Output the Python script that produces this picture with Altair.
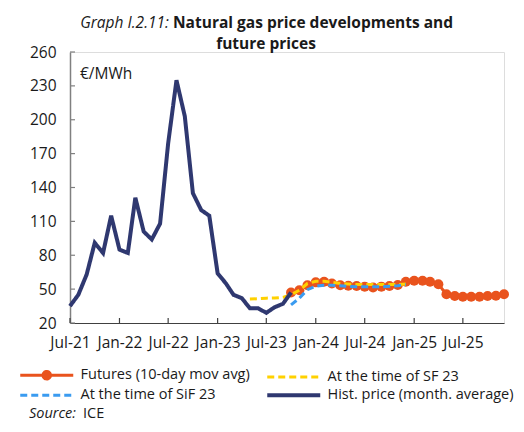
import altair as alt
import pandas as pd

FUT = "Futures (10-day mov avg)"
SF = "At the time of SF 23"
SIF = "At the time of SiF 23"
HIST = "Hist. price (month. average)"

series_names = [FUT, SF, SIF, HIST]
series_colors = ["#E9531D", "#FFD100", "#3A9BF0", "#2F3870"]
series_dashes = [[1, 0], [7, 4], [7, 4], [1, 0]]

hist_start = "2021-07"
hist_values = [35, 45, 63, 91, 82, 115, 85, 82, 131, 101, 94, 108,
               179, 235, 203, 135, 120, 115, 64, 55, 45, 42, 33, 33,
               29, 34, 37, 47]

futures_start = "2023-10"
futures_values = [47, 49, 53.5, 56, 56.5, 55, 53.5, 53, 52.8, 52.2, 51.5,
                  52.2, 52.8, 53.6, 56.6, 57.4, 57.4, 56.6, 54.3, 45.4,
                  43.9, 43.3, 43.3, 43.3, 43.9, 44.2, 45.4]

sf_start = "2023-05"
sf_values = [41.2, 41.5, 42, 42.2, 42.7, 45, 49, 55, 57, 57, 56, 55,
             54.5, 54, 54, 54, 54, 54, 54, 54.5]

sif_start = "2023-10"
sif_values = [36, 42, 49.5, 52.5, 53.5, 53.5, 53, 52.5, 52, 52, 52, 52,
              52.5, 53, 54]

y_ticks = [20, 50, 80, 110, 140, 170, 200, 230, 260]
x_ticks = ["2021-07", "2022-01", "2022-07", "2023-01", "2023-07",
           "2024-01", "2024-07", "2025-01", "2025-07"]
x_first = "2021-07"
x_last = "2025-12"

FONT = "Open Sans"
FS = 15.5
W, H = 434, 271


def frame(name, start, values):
    months = pd.date_range(start=start + "-01", periods=len(values), freq="MS")
    return pd.DataFrame({"date": months.strftime("%Y-%m-%dT00:00:00"),
                         "value": values, "series": name})


def dt(s):
    y, m = s.split("-")
    return alt.DateTime(year=int(y), month=int(m), date=1)


hist_df = frame(HIST, hist_start, hist_values)
fut_df = frame(FUT, futures_start, futures_values)
sf_df = frame(SF, sf_start, sf_values)
sif_df = frame(SIF, sif_start, sif_values)

line_path = "M-5.3,0H5.3"
dot_path = ("M-5.3,0H5.3"
            "M-0.3,0A0.3,0.3,0,1,1,0.3,0A0.3,0.3,0,1,1,-0.3,0Z"
            "M-0.75,0A0.75,0.75,0,1,1,0.75,0A0.75,0.75,0,1,1,-0.75,0Z")

legend = alt.Legend(
    title=None, orient="none", legendX=-30.5, legendY=316, columns=2,
    direction="horizontal",
    padding=0, symbolSize=100,
    symbolType={"expr": f"datum.value === '{FUT}' ? '{dot_path}' : '{line_path}'"},
    symbolStrokeWidth={"expr": f"datum.value === '{HIST}' ? 4 : 3"},
    labelFont=FONT, labelFontSize=14.5, labelColor="#1a1a1a", labelLimit=0,
    labelOffset=26.5, rowPadding=2, columnPadding=8, symbolOffset=0,
)

x_enc = alt.X("date:T", title=None,
              scale=alt.Scale(domain=[dt(x_first), dt(x_last)], nice=False),
              axis=alt.Axis(values=[dt(v) for v in x_ticks], format="%b-%y",
                            labelFont=FONT, labelFontSize=FS, labelColor="#1a1a1a",
                            labelPadding=12, labelOverlap=False, labelFlush=False,
                            ticks=False, tickSize=0, grid=False,
                            domainColor="#404040", domainWidth=1.2))
y_enc = alt.Y("value:Q", title=None,
              scale=alt.Scale(domain=[20, 260], nice=False, zero=False),
              axis=alt.Axis(values=y_ticks, labelFont=FONT, labelFontSize=FS,
                            labelColor="#1a1a1a", labelPadding=14, ticks=False,
                            labelOverlap=False, labelFlush=False,
                            tickSize=0, grid=False, domainColor="#808080",
                            domainWidth=1.5))
color_enc = alt.Color("series:N", scale=alt.Scale(domain=series_names, range=series_colors),
                      legend=legend)
dash_enc = alt.StrokeDash("series:N", scale=alt.Scale(domain=series_names, range=series_dashes),
                          legend=legend)

fut_line = alt.Chart(fut_df).mark_line(strokeWidth=3).encode(
    x=x_enc, y=y_enc, color=color_enc, strokeDash=dash_enc)
fut_pts = alt.Chart(fut_df).mark_circle(size=100, opacity=1, color=series_colors[0]).encode(
    x=x_enc, y=y_enc)
sf_line = alt.Chart(sf_df).mark_line(strokeWidth=3).encode(
    x=x_enc, y=y_enc, color=color_enc, strokeDash=dash_enc)
sif_line = alt.Chart(sif_df).mark_line(strokeWidth=3).encode(
    x=x_enc, y=y_enc, color=color_enc, strokeDash=dash_enc)
hist_line = alt.Chart(hist_df).mark_line(strokeWidth=4).encode(
    x=x_enc, y=y_enc, color=color_enc, strokeDash=dash_enc)

ytick_rules = alt.Chart(pd.DataFrame({"value": y_ticks})).mark_rule(
    color="#808080", strokeWidth=1.2).encode(y=y_enc, x=alt.value(0), x2=alt.value(5))
xtick_rules = alt.Chart(pd.DataFrame({"date": [v + "-01T00:00:00" for v in x_ticks]})).mark_rule(
    color="#404040", strokeWidth=1.2).encode(x=x_enc, y=alt.value(H - 5), y2=alt.value(H))


def label(text, x, y, align="left", style="normal", weight="normal", size=FS):
    return alt.Chart(pd.DataFrame({"k": [0]})).mark_text(
        text=text, align=align, baseline="middle", font=FONT, fontSize=size,
        fontStyle=style, fontWeight=weight, color="#1a1a1a").encode(
        x=alt.value(x), y=alt.value(y))


texts = [
    label("Graph I.2.11:", 99, -29.5, align="right", style="italic"),
    label("Natural gas price developments and", 103, -29.5, weight="bold"),
    label("future prices", 196, -8.5, align="center", weight="bold"),
    label("\u20ac/MWh", 10, 22),
    label("Source:", -41, 362, style="italic", size=14.5),
    label("ICE", 13, 362, size=14.5),
]

chart = alt.layer(
    ytick_rules, xtick_rules, fut_line, fut_pts, sf_line, sif_line, hist_line, *texts
).properties(
    width=W, height=H,
    autosize=alt.AutoSizeParams(type="none"),
    padding={"left": 62, "top": 44, "right": 12, "bottom": 101},
).configure_view(stroke=None).configure(background="white")

chart.save("out.html", embed_options={"renderer": "svg", "actions": False})
